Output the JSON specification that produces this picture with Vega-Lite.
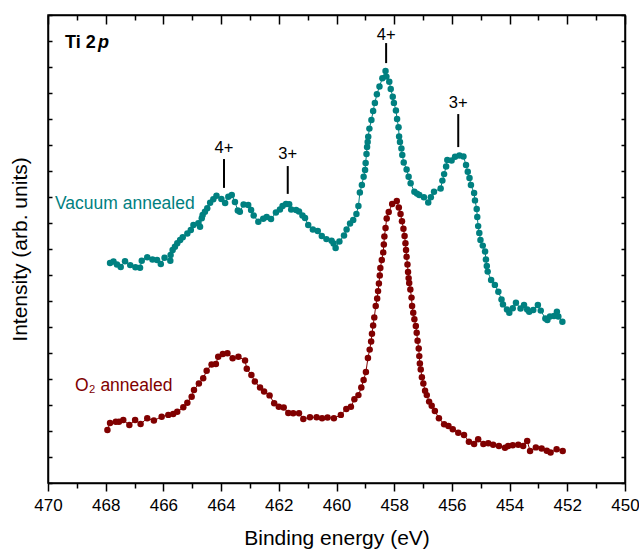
{
"$schema":"https://vega.github.io/schema/vega-lite/v6.json",
"width":577,"height":468,
"autosize":"none",
"padding":{"left":48,"top":15,"right":14,"bottom":67},
"background":"white",
"config":{"view":{"stroke":"black","strokeWidth":1.5},"font":"Liberation Sans",
 "axis":{"grid":false,"domainColor":"black","tickColor":"black","domainWidth":1.5,"tickWidth":1.5,"labelColor":"black","titleColor":"black","labelFont":"Liberation Sans","titleFont":"Liberation Sans","titleFontWeight":"normal"}},
"datasets":{
"spectra":[
{"s":"O","be":467.94,"i":2.04},{"s":"O","be":467.85,"i":2.31},{"s":"O","be":467.65,"i":2.36},{"s":"O","be":467.54,"i":2.36},{"s":"O","be":467.39,"i":2.42},{"s":"O","be":467.18,"i":2.23},{"s":"O","be":466.98,"i":2.42},{"s":"O","be":466.79,"i":2.27},{"s":"O","be":466.56,"i":2.49},{"s":"O","be":466.33,"i":2.40},{"s":"O","be":466.06,"i":2.55},{"s":"O","be":465.83,"i":2.62},{"s":"O","be":465.66,"i":2.65},{"s":"O","be":465.52,"i":2.74},{"s":"O","be":465.31,"i":2.91},{"s":"O","be":465.17,"i":3.09},{"s":"O","be":465.02,"i":3.32},{"s":"O","be":464.94,"i":3.58},{"s":"O","be":464.77,"i":3.83},{"s":"O","be":464.62,"i":4.03},{"s":"O","be":464.50,"i":4.32},{"s":"O","be":464.33,"i":4.56},{"s":"O","be":464.18,"i":4.58},{"s":"O","be":464.10,"i":4.86},{"s":"O","be":463.94,"i":4.96},{"s":"O","be":463.78,"i":4.99},{"s":"O","be":463.60,"i":4.80},{"s":"O","be":463.40,"i":4.86},{"s":"O","be":463.17,"i":4.71},{"s":"O","be":463.11,"i":4.39},{"s":"O","be":462.95,"i":4.15},{"s":"O","be":462.83,"i":3.90},{"s":"O","be":462.65,"i":3.67},{"s":"O","be":462.51,"i":3.52},{"s":"O","be":462.32,"i":3.37},{"s":"O","be":462.16,"i":3.07},{"s":"O","be":462.00,"i":2.93},{"s":"O","be":461.83,"i":2.90},{"s":"O","be":461.67,"i":2.69},{"s":"O","be":461.50,"i":2.68},{"s":"O","be":461.30,"i":2.68},{"s":"O","be":461.15,"i":2.46},{"s":"O","be":460.92,"i":2.53},{"s":"O","be":460.69,"i":2.53},{"s":"O","be":460.50,"i":2.49},{"s":"O","be":460.31,"i":2.52},{"s":"O","be":460.09,"i":2.49},{"s":"O","be":459.85,"i":2.62},{"s":"O","be":459.66,"i":2.85},{"s":"O","be":459.50,"i":2.93},{"s":"O","be":459.38,"i":3.22},{"s":"O","be":459.24,"i":3.38},{"s":"O","be":459.14,"i":3.67},{"s":"O","be":459.06,"i":3.96},{"s":"O","be":458.98,"i":4.27},{"s":"O","be":458.91,"i":4.81},{"s":"O","be":458.85,"i":5.13},{"s":"O","be":458.80,"i":5.44},{"s":"O","be":458.77,"i":5.74},{"s":"O","be":458.73,"i":6.06},{"s":"O","be":458.69,"i":6.37},{"s":"O","be":458.64,"i":6.81},{"s":"O","be":458.59,"i":7.10},{"s":"O","be":458.56,"i":7.38},{"s":"O","be":458.53,"i":7.67},{"s":"O","be":458.50,"i":7.98},{"s":"O","be":458.48,"i":8.27},{"s":"O","be":458.43,"i":8.58},{"s":"O","be":458.38,"i":8.87},{"s":"O","be":458.36,"i":9.17},{"s":"O","be":458.34,"i":9.48},{"s":"O","be":458.30,"i":9.81},{"s":"O","be":458.26,"i":10.17},{"s":"O","be":458.19,"i":10.42},{"s":"O","be":458.07,"i":10.73},{"s":"O","be":457.91,"i":10.85},{"s":"O","be":457.84,"i":10.60},{"s":"O","be":457.78,"i":10.35},{"s":"O","be":457.73,"i":10.07},{"s":"O","be":457.68,"i":9.78},{"s":"O","be":457.64,"i":9.50},{"s":"O","be":457.61,"i":9.22},{"s":"O","be":457.59,"i":8.96},{"s":"O","be":457.57,"i":8.70},{"s":"O","be":457.54,"i":8.40},{"s":"O","be":457.52,"i":8.12},{"s":"O","be":457.50,"i":7.88},{"s":"O","be":457.48,"i":7.69},{"s":"O","be":457.44,"i":7.44},{"s":"O","be":457.40,"i":7.13},{"s":"O","be":457.38,"i":6.81},{"s":"O","be":457.34,"i":6.55},{"s":"O","be":457.30,"i":6.30},{"s":"O","be":457.25,"i":6.04},{"s":"O","be":457.22,"i":5.78},{"s":"O","be":457.19,"i":5.47},{"s":"O","be":457.15,"i":5.17},{"s":"O","be":457.13,"i":4.88},{"s":"O","be":457.11,"i":4.60},{"s":"O","be":457.08,"i":4.37},{"s":"O","be":457.04,"i":4.07},{"s":"O","be":456.99,"i":3.83},{"s":"O","be":456.93,"i":3.55},{"s":"O","be":456.87,"i":3.38},{"s":"O","be":456.79,"i":3.13},{"s":"O","be":456.70,"i":2.97},{"s":"O","be":456.59,"i":2.77},{"s":"O","be":456.45,"i":2.49},{"s":"O","be":456.27,"i":2.26},{"s":"O","be":456.12,"i":2.19},{"s":"O","be":455.97,"i":2.07},{"s":"O","be":455.78,"i":1.93},{"s":"O","be":455.58,"i":1.85},{"s":"O","be":455.41,"i":1.59},{"s":"O","be":455.23,"i":1.50},{"s":"O","be":455.09,"i":1.68},{"s":"O","be":454.91,"i":1.50},{"s":"O","be":454.74,"i":1.53},{"s":"O","be":454.57,"i":1.47},{"s":"O","be":454.37,"i":1.42},{"s":"O","be":454.16,"i":1.36},{"s":"O","be":454.05,"i":1.42},{"s":"O","be":453.89,"i":1.45},{"s":"O","be":453.70,"i":1.47},{"s":"O","be":453.53,"i":1.42},{"s":"O","be":453.39,"i":1.62},{"s":"O","be":453.29,"i":1.23},{"s":"O","be":453.09,"i":1.37},{"s":"O","be":452.89,"i":1.33},{"s":"O","be":452.71,"i":1.24},{"s":"O","be":452.58,"i":1.17},{"s":"O","be":452.37,"i":1.30},{"s":"O","be":452.16,"i":1.23},
{"s":"V","be":467.85,"i":8.46},{"s":"V","be":467.73,"i":8.52},{"s":"V","be":467.61,"i":8.40},{"s":"V","be":467.48,"i":8.31},{"s":"V","be":467.33,"i":8.53},{"s":"V","be":467.15,"i":8.38},{"s":"V","be":466.97,"i":8.30},{"s":"V","be":466.81,"i":8.28},{"s":"V","be":466.75,"i":8.55},{"s":"V","be":466.56,"i":8.68},{"s":"V","be":466.38,"i":8.60},{"s":"V","be":466.22,"i":8.58},{"s":"V","be":466.09,"i":8.42},{"s":"V","be":465.96,"i":8.66},{"s":"V","be":465.76,"i":8.55},{"s":"V","be":465.75,"i":8.77},{"s":"V","be":465.68,"i":8.96},{"s":"V","be":465.60,"i":9.09},{"s":"V","be":465.52,"i":9.22},{"s":"V","be":465.42,"i":9.35},{"s":"V","be":465.33,"i":9.45},{"s":"V","be":465.17,"i":9.60},{"s":"V","be":465.05,"i":9.73},{"s":"V","be":464.96,"i":9.92},{"s":"V","be":464.79,"i":9.99},{"s":"V","be":464.73,"i":9.86},{"s":"V","be":464.67,"i":10.18},{"s":"V","be":464.64,"i":10.31},{"s":"V","be":464.56,"i":10.43},{"s":"V","be":464.48,"i":10.57},{"s":"V","be":464.38,"i":10.78},{"s":"V","be":464.27,"i":10.91},{"s":"V","be":464.16,"i":11.05},{"s":"V","be":463.99,"i":10.92},{"s":"V","be":463.86,"i":10.77},{"s":"V","be":463.75,"i":11.01},{"s":"V","be":463.63,"i":11.08},{"s":"V","be":463.52,"i":10.81},{"s":"V","be":463.42,"i":10.48},{"s":"V","be":463.35,"i":10.43},{"s":"V","be":463.22,"i":10.71},{"s":"V","be":463.06,"i":10.69},{"s":"V","be":462.96,"i":10.50},{"s":"V","be":462.87,"i":10.29},{"s":"V","be":462.71,"i":10.05},{"s":"V","be":462.54,"i":10.16},{"s":"V","be":462.42,"i":10.23},{"s":"V","be":462.27,"i":10.15},{"s":"V","be":462.10,"i":10.40},{"s":"V","be":461.96,"i":10.52},{"s":"V","be":461.87,"i":10.65},{"s":"V","be":461.75,"i":10.73},{"s":"V","be":461.64,"i":10.72},{"s":"V","be":461.57,"i":10.52},{"s":"V","be":461.40,"i":10.50},{"s":"V","be":461.30,"i":10.44},{"s":"V","be":461.18,"i":10.29},{"s":"V","be":461.09,"i":10.19},{"s":"V","be":460.98,"i":9.92},{"s":"V","be":460.82,"i":9.75},{"s":"V","be":460.65,"i":9.69},{"s":"V","be":460.51,"i":9.50},{"s":"V","be":460.35,"i":9.38},{"s":"V","be":460.17,"i":9.32},{"s":"V","be":460.10,"i":9.21},{"s":"V","be":460.03,"i":9.04},{"s":"V","be":459.90,"i":9.29},{"s":"V","be":459.74,"i":9.52},{"s":"V","be":459.65,"i":9.75},{"s":"V","be":459.53,"i":9.98},{"s":"V","be":459.42,"i":10.12},{"s":"V","be":459.31,"i":10.35},{"s":"V","be":459.24,"i":10.65},{"s":"V","be":459.19,"i":11.17},{"s":"V","be":459.12,"i":11.46},{"s":"V","be":459.06,"i":11.78},{"s":"V","be":459.01,"i":12.04},{"s":"V","be":458.99,"i":12.31},{"s":"V","be":458.96,"i":12.65},{"s":"V","be":458.94,"i":12.92},{"s":"V","be":458.92,"i":13.12},{"s":"V","be":458.90,"i":13.32},{"s":"V","be":458.86,"i":13.63},{"s":"V","be":458.79,"i":13.96},{"s":"V","be":458.73,"i":14.31},{"s":"V","be":458.67,"i":14.62},{"s":"V","be":458.60,"i":14.95},{"s":"V","be":458.51,"i":15.25},{"s":"V","be":458.41,"i":15.57},{"s":"V","be":458.30,"i":15.85},{"s":"V","be":458.27,"i":15.63},{"s":"V","be":458.17,"i":15.43},{"s":"V","be":458.12,"i":15.15},{"s":"V","be":458.05,"i":14.86},{"s":"V","be":458.01,"i":14.62},{"s":"V","be":457.94,"i":14.33},{"s":"V","be":457.90,"i":14.00},{"s":"V","be":457.85,"i":13.68},{"s":"V","be":457.83,"i":13.33},{"s":"V","be":457.80,"i":13.12},{"s":"V","be":457.75,"i":12.87},{"s":"V","be":457.72,"i":12.62},{"s":"V","be":457.67,"i":12.33},{"s":"V","be":457.57,"i":12.06},{"s":"V","be":457.50,"i":11.78},{"s":"V","be":457.43,"i":11.53},{"s":"V","be":457.30,"i":11.20},{"s":"V","be":457.21,"i":11.13},{"s":"V","be":457.13,"i":11.08},{"s":"V","be":456.97,"i":10.99},{"s":"V","be":456.82,"i":10.79},{"s":"V","be":456.73,"i":10.99},{"s":"V","be":456.62,"i":11.20},{"s":"V","be":456.39,"i":11.33},{"s":"V","be":456.33,"i":11.63},{"s":"V","be":456.27,"i":11.88},{"s":"V","be":456.20,"i":12.17},{"s":"V","be":456.16,"i":12.42},{"s":"V","be":456.01,"i":12.40},{"s":"V","be":455.89,"i":12.55},{"s":"V","be":455.74,"i":12.60},{"s":"V","be":455.60,"i":12.56},{"s":"V","be":455.51,"i":12.23},{"s":"V","be":455.45,"i":11.97},{"s":"V","be":455.39,"i":11.73},{"s":"V","be":455.34,"i":11.46},{"s":"V","be":455.23,"i":11.15},{"s":"V","be":455.20,"i":10.87},{"s":"V","be":455.14,"i":10.54},{"s":"V","be":455.12,"i":10.23},{"s":"V","be":455.09,"i":9.88},{"s":"V","be":455.05,"i":9.62},{"s":"V","be":455.01,"i":9.35},{"s":"V","be":454.93,"i":9.13},{"s":"V","be":454.85,"i":8.90},{"s":"V","be":454.82,"i":8.60},{"s":"V","be":454.79,"i":8.35},{"s":"V","be":454.76,"i":8.13},{"s":"V","be":454.64,"i":7.81},{"s":"V","be":454.51,"i":7.62},{"s":"V","be":454.39,"i":7.36},{"s":"V","be":454.28,"i":7.06},{"s":"V","be":454.23,"i":6.87},{"s":"V","be":454.09,"i":6.67},{"s":"V","be":454.01,"i":6.55},{"s":"V","be":453.89,"i":6.72},{"s":"V","be":453.78,"i":6.93},{"s":"V","be":453.62,"i":6.71},{"s":"V","be":453.50,"i":6.85},{"s":"V","be":453.39,"i":6.67},{"s":"V","be":453.32,"i":6.59},{"s":"V","be":453.18,"i":6.65},{"s":"V","be":453.02,"i":6.85},{"s":"V","be":452.92,"i":6.63},{"s":"V","be":452.76,"i":6.33},{"s":"V","be":452.69,"i":6.27},{"s":"V","be":452.60,"i":6.40},{"s":"V","be":452.46,"i":6.42},{"s":"V","be":452.36,"i":6.59},{"s":"V","be":452.31,"i":6.40},{"s":"V","be":452.17,"i":6.20}
],
"marks":[
{"be":463.90,"i":11.35,"i2":12.46,"label":"4+","ti":12.88},
{"be":461.69,"i":11.12,"i2":12.19,"label":"3+","ti":12.65},
{"be":458.28,"i":16.15,"i2":16.92,"label":"4+","ti":17.23},
{"be":455.78,"i":12.92,"i2":14.19,"label":"3+","ti":14.62}
],
"serieslabels":[
{"s":"V","label":"Vacuum annealed","be":469.76,"i":10.73},
{"s":"O","label":"O₂ annealed","be":469.06,"i":3.74}
],
"title1":[{"label":"Ti 2","be":469.41,"i":16.92}],
"title2":[{"label":"p","be":468.27,"i":16.92}]
},
"resolve":{"axis":{"x":"independent","y":"independent"}},
"layer":[
{"data":{"name":"spectra"},
 "mark":{"type":"line","strokeWidth":1,"point":{"filled":true,"size":42,"opacity":1}},
 "encoding":{
  "x":{"field":"be","type":"quantitative","scale":{"domain":[450,470],"reverse":true,"nice":false,"zero":false},
   "axis":{"orient":"bottom","values":[450,452,454,456,458,460,462,464,466,468,470],"tickSize":8,"labelFontSize":17,"labelPadding":6,"labelFlush":false,"labelOverlap":false,"title":"Binding energy (eV)","titleFontSize":21,"titleY":61,"titleBaseline":"alphabetic"}},
  "y":{"field":"i","type":"quantitative","scale":{"domain":[0,18],"nice":false,"zero":false},
   "axis":{"orient":"left","values":[0,1,2,3,4,5,6,7,8,9,10,11,12,13,14,15,16,17,18],"tickSize":-4,"labels":false,"title":"Intensity (arb. units)","titleFontSize":21,"titleX":-28,"titleBaseline":"middle"}},
  "color":{"field":"s","type":"nominal","scale":{"domain":["V","O"],"range":["#008080","#800000"]},"legend":null}
 }},
{"data":{"name":"marks"},
 "mark":{"type":"rule","strokeWidth":2,"color":"black"},
 "encoding":{
  "x":{"field":"be","type":"quantitative","axis":{"orient":"bottom","values":[451,453,455,457,459,461,463,465,467,469],"tickSize":5,"labels":false,"domain":false,"title":null}},
  "y":{"field":"i","type":"quantitative","axis":{"orient":"right","values":[0,1,2,3,4,5,6,7,8,9,10,11,12,13,14,15,16,17,18],"tickSize":-4,"labels":false,"title":null}},
  "y2":{"field":"i2"}
 }},
{"data":{"name":"marks"},
 "mark":{"type":"text","fontSize":16.5,"color":"black","align":"center","baseline":"middle"},
 "encoding":{
  "x":{"field":"be","type":"quantitative","axis":{"orient":"top","values":[450,452,454,456,458,460,462,464,466,468,470],"tickSize":-9,"labels":false,"title":null}},
  "y":{"field":"ti","type":"quantitative","axis":null},
  "text":{"field":"label"}
 }},
{"data":{"name":"serieslabels"},
 "mark":{"type":"text","fontSize":17.5,"align":"left","baseline":"middle"},
 "encoding":{
  "x":{"field":"be","type":"quantitative","axis":{"orient":"top","values":[451,453,455,457,459,461,463,465,467,469],"tickSize":-5,"labels":false,"domain":false,"title":null}},
  "y":{"field":"i","type":"quantitative","axis":null},
  "text":{"field":"label"},
  "color":{"field":"s","type":"nominal","legend":null}
 }},
{"data":{"name":"title1"},
 "mark":{"type":"text","fontSize":18,"fontWeight":"bold","color":"black","align":"left","baseline":"middle"},
 "encoding":{
  "x":{"field":"be","type":"quantitative","axis":null},
  "y":{"field":"i","type":"quantitative","axis":null},
  "text":{"field":"label"}
 }},
{"data":{"name":"title2"},
 "mark":{"type":"text","fontSize":18,"fontWeight":"bold","fontStyle":"italic","color":"black","align":"left","baseline":"middle"},
 "encoding":{
  "x":{"field":"be","type":"quantitative","axis":null},
  "y":{"field":"i","type":"quantitative","axis":null},
  "text":{"field":"label"}
 }}
]
}
